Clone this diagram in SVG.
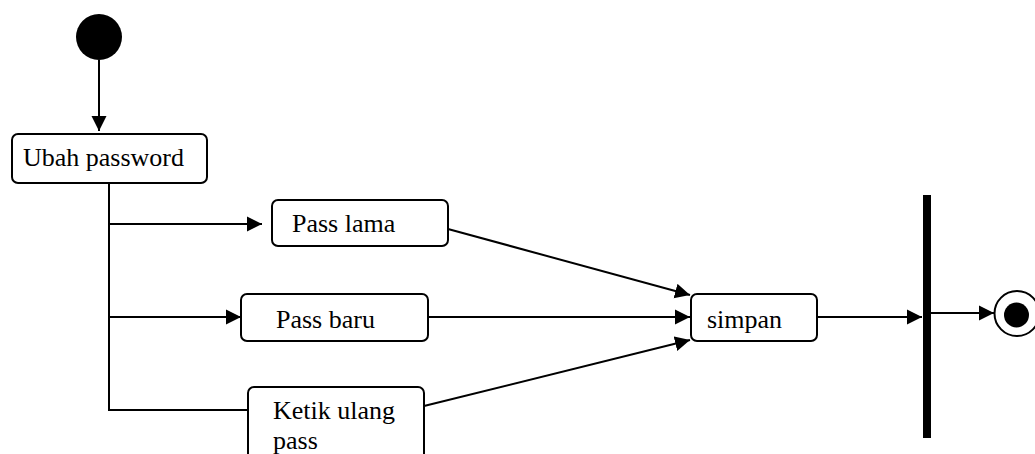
<svg xmlns="http://www.w3.org/2000/svg" width="1035" height="454" viewBox="0 0 1035 454">
<style>
.box{fill:#fff;stroke:#000;stroke-width:2}
.lbl{font-family:"Liberation Serif","Times New Roman",serif;font-size:26px;fill:#000}
.edge{fill:none;stroke:#000;stroke-width:2}
</style>
<defs>
<marker id="ah" markerUnits="userSpaceOnUse" markerWidth="16" markerHeight="16" viewBox="0 0 16 16" refX="15" refY="8" orient="auto">
<path d="M0,0.5 L15,8 L0,15.5 z" fill="#000"/>
</marker>
</defs>
<rect width="1035" height="454" fill="#fff"/>
<g id="connectors">
<line class="edge" x1="99" y1="60" x2="99" y2="131" marker-end="url(#ah)"/>
<polyline class="edge" points="109,183 109,410 248,410"/>
<line class="edge" x1="109" y1="224" x2="262" y2="224" marker-end="url(#ah)"/>
<line class="edge" x1="109" y1="317" x2="241" y2="317" marker-end="url(#ah)"/>
<line class="edge" x1="448" y1="229" x2="690" y2="295" marker-end="url(#ah)"/>
<line class="edge" x1="428" y1="317" x2="690" y2="317" marker-end="url(#ah)"/>
<line class="edge" x1="424" y1="406" x2="690" y2="340" marker-end="url(#ah)"/>
<line class="edge" x1="817" y1="317" x2="922" y2="317" marker-end="url(#ah)"/>
<line class="edge" x1="931" y1="313" x2="994" y2="313" marker-end="url(#ah)"/>
</g>
<g id="start">
<circle cx="99" cy="37" r="23" fill="#000"/>
</g>
<g id="ubah-password">
<rect class="box" x="12" y="134" width="195" height="49" rx="6"/>
<text class="lbl" x="23" y="166">Ubah password</text>
</g>
<g id="pass-lama">
<rect class="box" x="272" y="200" width="176" height="46" rx="6"/>
<text class="lbl" x="292" y="232">Pass lama</text>
</g>
<g id="pass-baru">
<rect class="box" x="241" y="294" width="187" height="47" rx="6"/>
<text class="lbl" x="276" y="328">Pass baru</text>
</g>
<g id="ketik-ulang-pass">
<rect class="box" x="248" y="387" width="176" height="80" rx="6"/>
<text class="lbl" x="273" y="419">Ketik ulang</text>
<text class="lbl" x="273" y="449">pass</text>
</g>
<g id="simpan">
<rect class="box" x="691" y="294" width="126" height="47" rx="6"/>
<text class="lbl" x="707" y="328">simpan</text>
</g>
<g id="join-bar">
<rect x="923" y="195" width="8" height="243" fill="#000"/>
</g>
<g id="end">
<circle cx="1017" cy="313.5" r="22.5" fill="#fff" stroke="#000" stroke-width="2"/>
<circle cx="1016.5" cy="315" r="12.5" fill="#000"/>
</g>
</svg>
